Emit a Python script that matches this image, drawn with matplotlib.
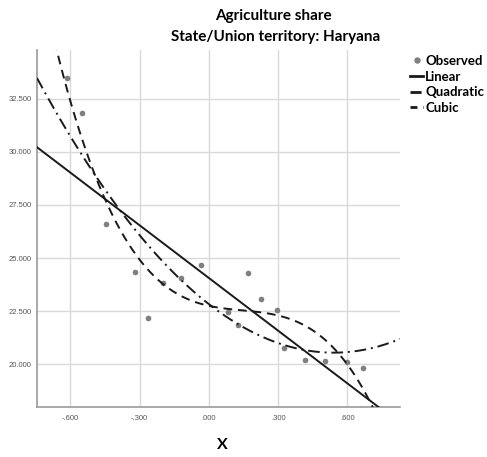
import numpy as np
import matplotlib
matplotlib.use("Agg")
import matplotlib.pyplot as plt
from matplotlib.lines import Line2D
from matplotlib.ticker import FuncFormatter

obs_x = [-0.613, -0.552, -0.445, -0.319, -0.265, -0.199, -0.119, -0.035, 0.083,
         0.127, 0.168, 0.225, 0.294, 0.327, 0.417, 0.501, 0.599, 0.667]
obs_y = [33.48, 31.83, 26.59, 24.35, 22.20, 23.81, 24.04, 24.67, 22.47,
         21.84, 24.28, 23.07, 22.55, 20.77, 20.19, 20.14, 20.11, 19.80]

# fitted curve coefficients (constant, x, x^2, x^3)
linear_coef = [24.06, -8.27]
quad_coef = [22.83, -8.46, 7.83]
cubic_coef = [22.75, -2.39, 9.53, -22.04]

x_ticks = [-0.6, -0.3, 0.0, 0.3, 0.6]
y_ticks = [20.0, 22.5, 25.0, 27.5, 30.0, 32.5]

title_font = ["Lato", "DejaVu Sans"]
tick_font = ["Liberation Sans Narrow", "Liberation Sans", "DejaVu Sans"]

fig = plt.figure(figsize=(4.87, 4.57), dpi=100)
ax = fig.add_axes([37 / 487, 1 - 406.7 / 457, 363 / 487, 356.7 / 457])
ax.set_xlim(-0.745, 0.828)
ax.set_ylim(18.0, 34.8)

xs = np.linspace(-0.745, 0.828, 400)

def poly(c, x):
    return sum(ci * x ** i for i, ci in enumerate(c))

ax.plot(obs_x, obs_y, "o", color="#808080", ms=3.6, mec="#6f6f6f", mew=0.4, zorder=3)
ax.plot(xs, poly(linear_coef, xs), color="#1a1a1a", lw=1.4, zorder=4)
ax.plot(xs, poly(quad_coef, xs), color="#1a1a1a", lw=1.4, dashes=(6, 2.5, 1, 2.5), zorder=4)
ax.plot(xs, poly(cubic_coef, xs), color="#1a1a1a", lw=1.4, dashes=(4.5, 3), zorder=4)

ax.set_xticks(x_ticks)
ax.set_yticks(y_ticks)

def fmt(v, pos):
    s = "%.3f" % v
    if s.startswith("-0"):
        s = "-" + s[2:]
    elif s.startswith("0"):
        s = s[1:]
    return s

ax.xaxis.set_major_formatter(FuncFormatter(fmt))
ax.yaxis.set_major_formatter(FuncFormatter(lambda v, p: "%.3f" % v))
for lab in ax.get_xticklabels() + ax.get_yticklabels():
    lab.set_family(tick_font)
    lab.set_fontsize(5.5)
    lab.set_color("#555555")
ax.tick_params(axis="x", length=0, pad=6)
ax.tick_params(axis="y", length=0, pad=4)
ax.grid(True, color="#d9d9d9", lw=1.0)
ax.set_axisbelow(True)
for s in ["top", "right"]:
    ax.spines[s].set_visible(False)
for s in ["left", "bottom"]:
    ax.spines[s].set_color("#9a9a9a")
    ax.spines[s].set_linewidth(1.2)

fig.text(273 / 487, 1 - 16 / 457, "Agriculture share", ha="center", va="center",
         fontsize=11, fontweight="bold", family=title_font)
fig.text(276 / 487, 1 - 37 / 457, "State/Union territory: Haryana", ha="center", va="center",
         fontsize=11, fontweight="bold", family=title_font)
fig.text(222 / 487, 1 - 445 / 457, "X", ha="center", va="center",
         fontsize=11.5, fontweight="bold", family=title_font)

handles = [
    Line2D([], [], ls="none", marker="o", color="#808080", ms=3.6),
    Line2D([], [], color="#1a1a1a", lw=2.0),
    Line2D([], [], color="#1a1a1a", lw=2.0, dashes=(4, 1, 1, 1)),
    Line2D([], [], color="#1a1a1a", lw=2.0, dashes=(2.5, 2, 1, 2)),
]
labels = ["Observed", "Linear", "Quadratic", "Cubic"]
fig.legend(handles, labels, loc="upper left", bbox_to_anchor=(410 / 487, 1 - 55 / 457),
           frameon=False, handlelength=1.0, handletextpad=0.15, labelspacing=0.28,
           borderaxespad=0, borderpad=0, prop={"family": title_font, "weight": "bold", "size": 9.5})

fig.savefig("out.png", dpi=100)
